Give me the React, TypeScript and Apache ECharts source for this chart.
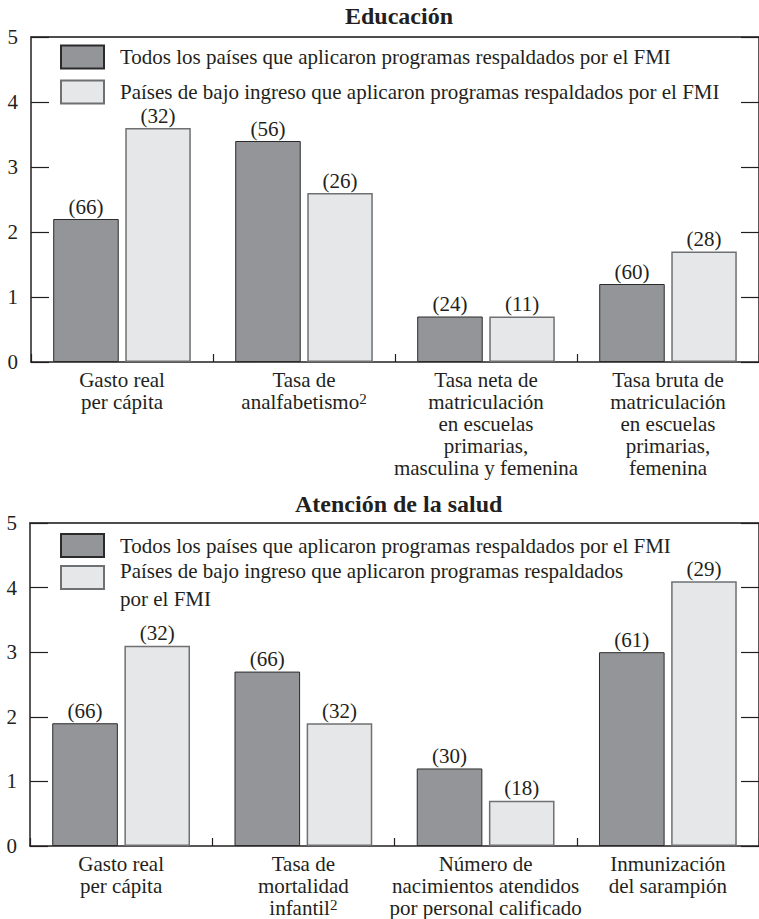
import React, { useEffect, useRef } from "react";
import * as echarts from "echarts";

const FONT = '"Liberation Serif", "Times New Roman", serif';
const INK = "#231f20";

const nameAll = "Todos los países que aplicaron programas respaldados por el FMI";
const nameLow = "Países de bajo ingreso que aplicaron programas respaldados por el FMI";

const eduCategories = [
  "Gasto real\nper cápita",
  "Tasa de\nanalfabetismo²",
  "Tasa neta de\nmatriculación\nen escuelas\nprimarias,\nmasculina y femenina",
  "Tasa bruta de\nmatriculación\nen escuelas\nprimarias,\nfemenina",
];
const eduAll = [2.2, 3.4, 0.7, 1.2];
const eduAllCount = [66, 56, 24, 60];
const eduLow = [3.6, 2.6, 0.7, 1.7];
const eduLowCount = [32, 26, 11, 28];

const saludCategories = [
  "Gasto real\nper cápita",
  "Tasa de\nmortalidad\ninfantil²",
  "Número de\nnacimientos atendidos\npor personal calificado",
  "Inmunización\ndel sarampión",
];
const saludAll = [1.9, 2.7, 1.2, 3.0];
const saludAllCount = [66, 66, 30, 61];
const saludLow = [3.1, 1.9, 0.7, 4.1];
const saludLowCount = [32, 32, 18, 29];

const yTicks = [0, 1, 2, 3, 4, 5];

const DARK = { color: "#939598", borderColor: "#2b2b2b", borderWidth: 1 };
const LIGHT = { color: "#e6e7e8", borderColor: "#6f7072", borderWidth: 1.5 };

function App() {
  const ref = useRef<HTMLDivElement>(null);

  useEffect(() => {
    if (!ref.current) return;
    const chart = echarts.init(ref.current, undefined, { renderer: "svg" });

    const grids = [
      { left: 31, top: 37, width: 736, height: 325 },
      { left: 30, top: 523, width: 736, height: 325 },
    ];

    const catAxis = (gridIndex: number, data: string[]) => ({
      type: "category",
      gridIndex,
      data,
      position: "bottom",
      boundaryGap: true,
      axisLine: { show: true, lineStyle: { color: INK, width: 1.5 } },
      axisTick: { show: true, inside: true, length: 8, alignWithLabel: false, lineStyle: { color: INK, width: 1.2 } },
      axisLabel: {
        interval: 0,
        hideOverlap: false,
        margin: 7,
        fontFamily: FONT,
        fontSize: 21,
        lineHeight: 22,
        color: INK,
        formatter: (v: string) => v.replace("²", "{sup|2}"),
        rich: {
          sup: { fontFamily: FONT, fontSize: 15, lineHeight: 15, verticalAlign: "top", color: INK },
        },
      },
      splitLine: { show: false },
    });

    const topLine = (gridIndex: number) => ({
      type: "value",
      gridIndex,
      position: "top",
      min: 0,
      max: 1,
      axisLine: { show: true, onZero: false, lineStyle: { color: "#4d4d4f", width: 2 } },
      axisTick: { show: false },
      axisLabel: { show: false },
      splitLine: { show: false },
    });

    const leftAxis = (gridIndex: number) => ({
      type: "value",
      gridIndex,
      position: "left",
      min: yTicks[0],
      max: yTicks[yTicks.length - 1],
      interval: 1,
      axisLine: { show: true, onZero: false, lineStyle: { color: INK, width: 1.5 } },
      axisTick: { show: true, inside: true, length: 18, lineStyle: { color: INK, width: 1.2 } },
      axisLabel: { margin: 13, fontFamily: FONT, fontSize: 21, color: INK },
      splitLine: { show: false },
    });

    const rightAxis = (gridIndex: number) => ({
      type: "value",
      gridIndex,
      position: "right",
      min: yTicks[0],
      max: yTicks[yTicks.length - 1],
      interval: 1,
      axisLine: { show: true, onZero: false, lineStyle: { color: INK, width: 1.5 } },
      axisTick: { show: true, inside: true, length: 18, lineStyle: { color: INK, width: 1.2 } },
      axisLabel: { show: false },
      splitLine: { show: false },
    });

    const barLabel = (counts: number[]) => ({
      show: true,
      position: "top",
      distance: 3,
      fontFamily: FONT,
      fontSize: 21,
      lineHeight: 19,
      color: INK,
      formatter: (p: any) => "(" + counts[p.dataIndex] + ")",
    });

    const bar = (name: string, data: number[], counts: number[], style: any, axisIdx: number) => ({
      type: "bar",
      name,
      xAxisIndex: axisIdx,
      yAxisIndex: axisIdx,
      data,
      barWidth: "36%",
      barGap: "10%",
      itemStyle: style,
      label: barLabel(counts),
    });

    const legendBase = {
      orient: "vertical",
      left: 60,
      padding: 0,
      itemWidth: 43,
      itemHeight: 23,
      itemGap: 10,
      icon: "rect",
      selectedMode: false,
      textStyle: { fontFamily: FONT, fontSize: 21, color: INK, padding: [0, 0, 0, 11] },
    };

    const option: any = {
      animation: false,
      backgroundColor: "#ffffff",
      title: [
        {
          text: "Educación",
          left: 345,
          top: 4,
          padding: 0,
          textStyle: { fontFamily: FONT, fontSize: 24, fontWeight: "bold", color: INK },
        },
        {
          text: "Atención de la salud",
          left: 295,
          top: 492,
          padding: 0,
          textStyle: { fontFamily: FONT, fontSize: 24, fontWeight: "bold", color: INK },
        },
      ],
      legend: [
        { ...legendBase, top: 44.5, data: [nameAll, nameLow] },
        { ...legendBase, top: 533, data: [nameAll] },
        {
          ...legendBase,
          top: 546,
          data: [nameLow],
          formatter: () => "{p|Países de bajo ingreso que aplicaron programas respaldados}\n{p|por el FMI}",
          textStyle: {
            fontFamily: FONT,
            fontSize: 21,
            color: INK,
            padding: [0, 0, 0, 11],
            rich: {
              p: { fontFamily: FONT, fontSize: 21, color: INK, lineHeight: 28, padding: [14, 0, 0, 0] },
            },
          },
        },
      ],
      grid: grids,
      xAxis: [catAxis(0, eduCategories), topLine(0), catAxis(1, saludCategories), topLine(1)],
      yAxis: [leftAxis(0), rightAxis(0), leftAxis(1), rightAxis(1)],
      series: [
        bar(nameAll, eduAll, eduAllCount, DARK, 0),
        bar(nameLow, eduLow, eduLowCount, LIGHT, 0),
        bar(nameAll, saludAll, saludAllCount, DARK, 2),
        bar(nameLow, saludLow, saludLowCount, LIGHT, 2),
      ],
    };

    chart.setOption(option);
    return () => chart.dispose();
  }, []);

  return (
    <div
      ref={ref}
      style={{ position: "absolute", left: 0, top: 0, width: 759, height: 919, background: "#fff" }}
    />
  );
}

export default App;
